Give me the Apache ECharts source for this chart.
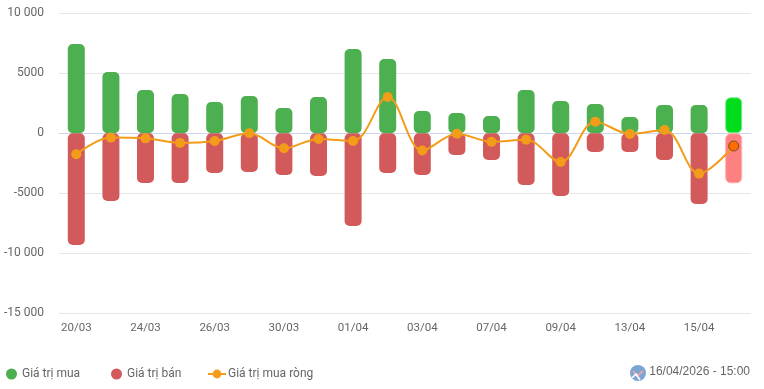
<!DOCTYPE html>
<html><head><meta charset="utf-8">
<style>html,body{margin:0;padding:0;background:#fff}#c{width:764px;height:389px}</style>
<script src="https://cdn.jsdelivr.net/npm/echarts@6/dist/echarts.min.js"></script>
</head><body><div id="c"></div>
<script>
const categories=['20/03','21/03','24/03','25/03','26/03','27/03','30/03','31/03','01/04','02/04','03/04','06/04','07/04','08/04','09/04','10/04','13/04','14/04','15/04','16/04'];
const buyValues=[7440,5110,3610,3280,2610,3110,2110,3030,7030,6190,1860,1690,1440,3610,2690,2440,1360,2360,2360,3000];
const sellValues=[-9300,-5640,-4140,-4140,-3300,-3220,-3470,-3560,-7720,-3300,-3470,-1800,-2220,-4300,-5220,-1560,-1560,-2220,-5890,-4170];
const netValues=[-1750,-360,-420,-800,-640,0,-1250,-470,-640,3030,-1440,-30,-700,-530,-2390,970,-50,280,-3360,-1060];
const yTickLabels={'10000':'10 000','5000':'5000','0':'0','-5000':'-5000','-10000':'-10 000','-15000':'-15 000'};
const stampText='16/04/2026 - 15:00';
const last=categories.length-1;
const F='Roboto';
const chart=echarts.init(document.getElementById('c'),null,{renderer:'canvas'});
chart.setOption({
 animation:false,
 grid:{left:59,right:13,top:13.3,bottom:75.7,containLabel:false},
 xAxis:{type:'category',data:categories,
  axisLine:{lineStyle:{color:'#ccd6eb',width:1}},axisTick:{show:false},
  axisLabel:{interval:1,color:'#666',fontFamily:F,fontSize:11.5,margin:9}},
 yAxis:{type:'value',min:-15000,max:10000,interval:5000,
  axisLine:{show:false},axisTick:{show:false},
  splitLine:{lineStyle:{color:'#e6e6e6',width:1}},
  axisLabel:{color:'#666',fontFamily:F,fontSize:12,margin:15,padding:[4,0,0,0],formatter:v=>yTickLabels[String(v)]}},
 legend:[
  {data:['Giá trị mua'],left:1,top:363,icon:'circle',itemWidth:11,itemHeight:11,textStyle:{color:'#666',fontFamily:F,fontSize:12,padding:[0,0,0,0]}},
  {data:['Giá trị bán'],left:106,top:363,icon:'circle',itemWidth:11,itemHeight:11,textStyle:{color:'#666',fontFamily:F,fontSize:12,padding:[0,0,0,0]}},
  {data:['Giá trị mua ròng'],left:202,top:363,itemWidth:18,itemHeight:11,textStyle:{color:'#666',fontFamily:F,fontSize:12,padding:[0,0,0,-3]}}
 ],
 graphic:[
  {type:'circle',shape:{cx:638,cy:373,r:8},style:{fill:'#7aa6d4'}},
  {type:'polyline',shape:{points:[[633,371],[637,376],[643,371]]},style:{stroke:'#f0a0a8',fill:null,lineWidth:2}},
  {type:'polyline',shape:{points:[[632,378],[636,374],[640,380]]},style:{stroke:'#ffffff',fill:null,lineWidth:1.6}},
  {type:'text',style:{text:stampText,x:750,y:372,align:'right',verticalAlign:'middle',fill:'#666',font:'12px "Liberation Sans"'}}
 ],
 series:[
  {name:'Giá trị mua',type:'bar',barWidth:17,barGap:'-100%',
   itemStyle:{color:'#4caf50',borderRadius:5},
   data:buyValues.map((v,i)=>i===last?{value:v,itemStyle:{color:'#00dd1a',borderColor:'#7be88a',borderWidth:1,borderRadius:5}}:v)},
  {name:'Giá trị bán',type:'bar',barWidth:17,barGap:'-100%',
   itemStyle:{color:'#d35a5a',borderRadius:5},
   data:sellValues.map((v,i)=>i===last?{value:v,itemStyle:{color:'#ff8080',borderColor:'#ffb0b0',borderWidth:1,borderRadius:5}}:v)},
  {name:'Giá trị mua ròng',type:'line',smooth:0.35,symbol:'circle',symbolSize:10,z:5,
   lineStyle:{color:'#f39c1a',width:2},itemStyle:{color:'#f39c1a'},
   data:netValues.map((v,i)=>i===last?{value:v,itemStyle:{color:'#ff6f00',borderColor:'#7a4a20',borderWidth:1}}:v)}
 ]
});
</script></body></html>
